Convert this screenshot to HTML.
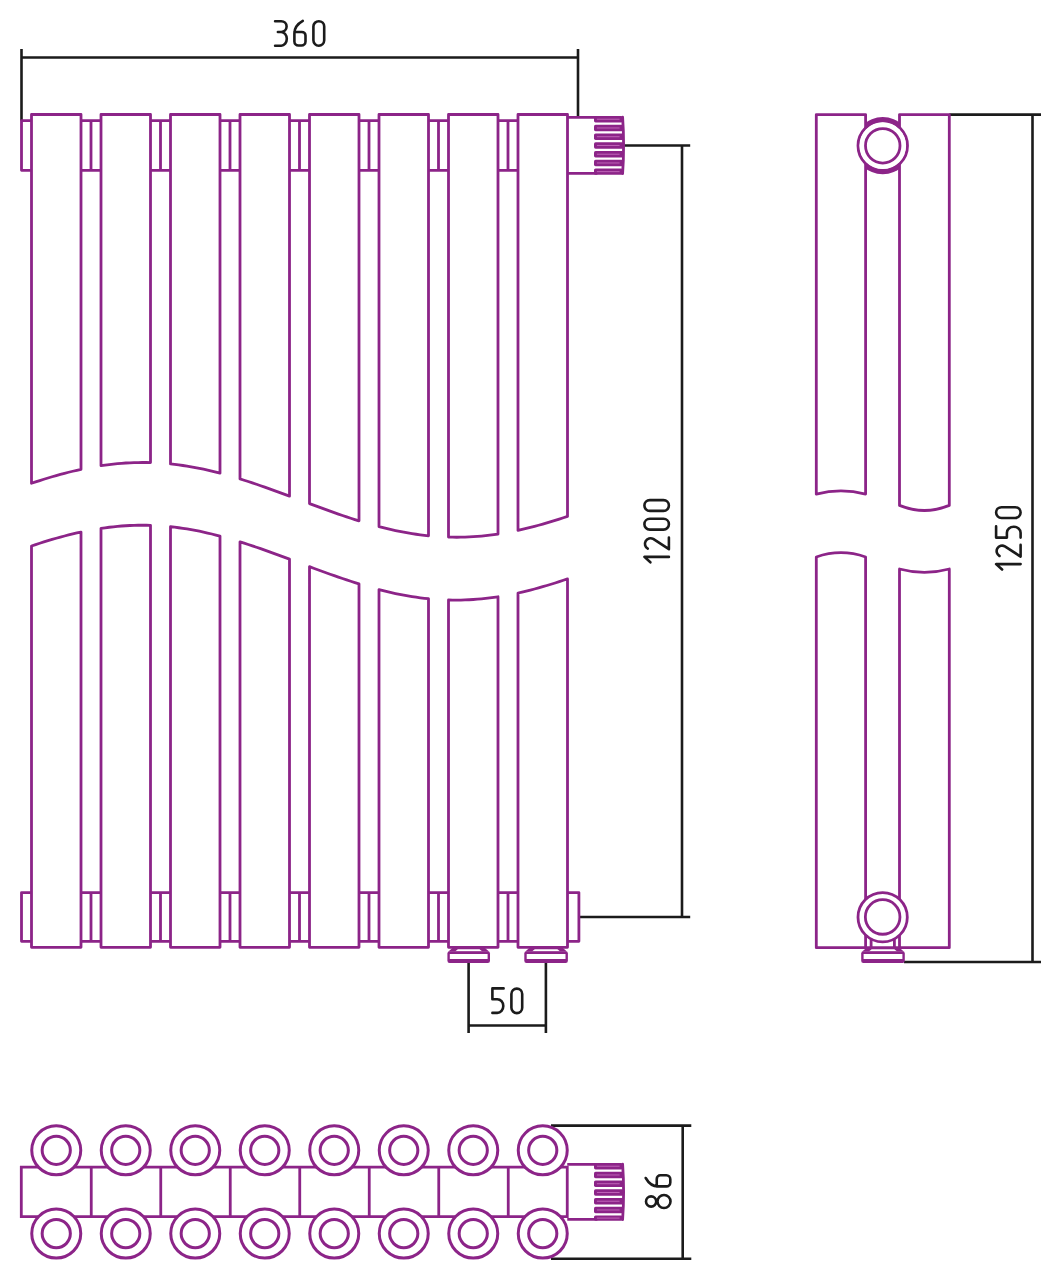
<!DOCTYPE html>
<html><head><meta charset="utf-8"><title>Radiator drawing</title>
<style>html,body{margin:0;padding:0;background:#fff;width:1061px;height:1280px;overflow:hidden;font-family:"Liberation Sans",sans-serif}svg{display:block}</style>
</head><body>
<svg width="1061" height="1280" viewBox="0 0 1061 1280"><path d="M21.5,49 V120.8 M578,49 V117 M21.5,57.5 H578 M624,145.5 H690.2 M579,917 H690.2 M682,145.5 V917 M949.3,114.65 H1041 M904,962 H1041 M1032.5,114.65 V962 M468.6,962.4 V1033 M545.9,962.4 V1033 M468.6,1025.5 H545.9" fill="none" stroke="#1b1b1b" stroke-width="2.6"/><g fill="none" stroke="#8C2488" stroke-width="2.8" stroke-linejoin="round"><path d="M31.5,483.28 V114.5 H81 V469.35 L76.88,470.27 L72.75,471.24 L68.62,472.25 L64.5,473.32 L60.38,474.42 L56.25,475.58 L52.12,476.77 L48,478 L43.88,479.27 L39.75,480.58 L35.62,481.91 L31.5,483.28Z"/><path d="M31.5,545.97 V947.3 H81 V532.04 L76.88,532.95 L72.75,533.92 L68.62,534.93 L64.5,536 L60.38,537.1 L56.25,538.26 L52.12,539.45 L48,540.68 L43.88,541.95 L39.75,543.26 L35.62,544.6 L31.5,545.97Z"/><path d="M101,465.67 V114.5 H150.5 V462.61 L146.38,462.52 L142.25,462.49 L138.12,462.53 L134,462.63 L129.88,462.79 L125.75,463.01 L121.62,463.3 L117.5,463.65 L113.38,464.07 L109.25,464.54 L105.12,465.08 L101,465.67Z"/><path d="M101,528.37 V947.3 H150.5 V525.37 L146.38,525.27 L142.25,525.24 L138.12,525.27 L134,525.36 L129.88,525.52 L125.75,525.74 L121.62,526.02 L117.5,526.37 L113.38,526.78 L109.25,527.25 L105.12,527.78 L101,528.37Z"/><path d="M170.5,463.95 V114.5 H220 V473.18 L215.88,472.12 L211.75,471.11 L207.62,470.15 L203.5,469.24 L199.38,468.38 L195.25,467.58 L191.12,466.83 L187,466.14 L182.88,465.5 L178.75,464.92 L174.62,464.4 L170.5,463.95Z"/><path d="M170.5,526.75 V947.3 H220 V536.08 L215.88,535.02 L211.75,534 L207.62,533.03 L203.5,532.11 L199.38,531.24 L195.25,530.43 L191.12,529.67 L187,528.97 L182.88,528.32 L178.75,527.74 L174.62,527.21 L170.5,526.75Z"/><path d="M240,478.92 V114.5 H289.5 V496.15 L285.38,494.62 L281.25,493.1 L277.12,491.59 L273,490.09 L268.88,488.61 L264.75,487.15 L260.62,485.71 L256.5,484.29 L252.38,482.9 L248.25,481.54 L244.12,480.21 L240,478.92Z"/><path d="M240,541.86 V947.3 H289.5 V559.18 L285.38,557.64 L281.25,556.11 L277.12,554.59 L273,553.09 L268.88,551.6 L264.75,550.14 L260.62,548.69 L256.5,547.27 L252.38,545.87 L248.25,544.5 L244.12,543.16 L240,541.86Z"/><path d="M309.5,503.62 V114.5 H359 V520.85 L354.88,519.55 L350.75,518.22 L346.62,516.87 L342.5,515.48 L338.38,514.06 L334.25,512.62 L330.12,511.16 L326,509.68 L321.88,508.19 L317.75,506.67 L313.62,505.15 L309.5,503.62Z"/><path d="M309.5,566.67 V947.3 H359 V583.9 L354.88,582.61 L350.75,581.28 L346.62,579.92 L342.5,578.54 L338.38,577.12 L334.25,575.68 L330.12,574.22 L326,572.74 L321.88,571.24 L317.75,569.73 L313.62,568.2 L309.5,566.67Z"/><path d="M379,526.58 V114.5 H428.5 V535.79 L424.38,535.33 L420.25,534.82 L416.12,534.24 L412,533.61 L407.88,532.92 L403.75,532.17 L399.62,531.37 L395.5,530.51 L391.38,529.6 L387.25,528.64 L383.12,527.63 L379,526.58Z"/><path d="M379,589.61 V947.3 H428.5 V598.73 L424.38,598.29 L420.25,597.78 L416.12,597.22 L412,596.59 L407.88,595.91 L403.75,595.17 L399.62,594.37 L395.5,593.52 L391.38,592.62 L387.25,591.67 L383.12,590.66 L379,589.61Z"/><path d="M448.5,537.11 V114.5 H498 V534.03 L493.88,534.62 L489.75,535.16 L485.62,535.64 L481.5,536.05 L477.38,536.41 L473.25,536.7 L469.12,536.92 L465,537.09 L460.88,537.19 L456.75,537.23 L452.62,537.2 L448.5,537.11Z"/><path d="M448.5,600.01 V947.3 H498 V596.76 L493.88,597.37 L489.75,597.92 L485.62,598.41 L481.5,598.84 L477.38,599.21 L473.25,599.51 L469.12,599.75 L465,599.93 L460.88,600.05 L456.75,600.1 L452.62,600.08 L448.5,600.01Z"/><path d="M518,530.34 V114.5 H567.5 V516.39 L563.38,517.76 L559.25,519.1 L555.12,520.4 L551,521.68 L546.88,522.91 L542.75,524.1 L538.62,525.26 L534.5,526.37 L530.38,527.43 L526.25,528.45 L522.12,529.42 L518,530.34Z"/><path d="M518,593.01 V947.3 H567.5 V578.91 L563.38,580.29 L559.25,581.64 L555.12,582.96 L551,584.24 L546.88,585.49 L542.75,586.7 L538.62,587.86 L534.5,588.98 L530.38,590.06 L526.25,591.09 L522.12,592.07 L518,593.01Z"/><path d="M31.5,120.7 H21.5 V170.3 H31.5"/><path d="M81,120.7 H101 M81,170.3 H101 M91,120.7 V170.3"/><path d="M150.5,120.7 H170.5 M150.5,170.3 H170.5 M160.5,120.7 V170.3"/><path d="M220,120.7 H240 M220,170.3 H240 M230,120.7 V170.3"/><path d="M289.5,120.7 H309.5 M289.5,170.3 H309.5 M299.5,120.7 V170.3"/><path d="M359,120.7 H379 M359,170.3 H379 M369,120.7 V170.3"/><path d="M428.5,120.7 H448.5 M428.5,170.3 H448.5 M438.5,120.7 V170.3"/><path d="M498,120.7 H518 M498,170.3 H518 M508,120.7 V170.3"/><path d="M31.5,892.6 H21.5 V941.3 H31.5"/><path d="M81,892.6 H101 M81,941.3 H101 M91,892.6 V941.3"/><path d="M150.5,892.6 H170.5 M150.5,941.3 H170.5 M160.5,892.6 V941.3"/><path d="M220,892.6 H240 M220,941.3 H240 M230,892.6 V941.3"/><path d="M289.5,892.6 H309.5 M289.5,941.3 H309.5 M299.5,892.6 V941.3"/><path d="M359,892.6 H379 M359,941.3 H379 M369,892.6 V941.3"/><path d="M428.5,892.6 H448.5 M428.5,941.3 H448.5 M438.5,892.6 V941.3"/><path d="M498,892.6 H518 M498,941.3 H518 M508,892.6 V941.3"/><path d="M567.5,892.6 H578.9 V941.3 H567.5"/></g><path d="M567.4,117.4 H597.4 M567.4,173.4 H597.4" fill="none" stroke="#8C2488" stroke-width="2.8"/><rect x="594" y="116" width="28.73" height="6.45" rx="1.6" fill="#8C2488"/><line x1="596.9" y1="119.22" x2="619.6" y2="119.22" stroke="#c46cbc" stroke-width="0.9"/><rect x="594" y="124.75" width="29.21" height="6.45" rx="1.6" fill="#8C2488"/><line x1="596.9" y1="127.98" x2="619.6" y2="127.98" stroke="#c46cbc" stroke-width="0.9"/><rect x="594" y="133.5" width="29.5" height="6.45" rx="1.6" fill="#8C2488"/><line x1="596.9" y1="136.73" x2="619.6" y2="136.73" stroke="#c46cbc" stroke-width="0.9"/><rect x="594" y="142.25" width="29.6" height="6.45" rx="1.6" fill="#8C2488"/><line x1="596.9" y1="145.48" x2="619.6" y2="145.48" stroke="#c46cbc" stroke-width="0.9"/><rect x="594" y="151" width="29.5" height="6.45" rx="1.6" fill="#8C2488"/><line x1="596.9" y1="154.23" x2="619.6" y2="154.23" stroke="#c46cbc" stroke-width="0.9"/><rect x="594" y="159.75" width="29.21" height="6.45" rx="1.6" fill="#8C2488"/><line x1="596.9" y1="162.98" x2="619.6" y2="162.98" stroke="#c46cbc" stroke-width="0.9"/><rect x="594" y="168.5" width="28.72" height="6.3" rx="1.6" fill="#8C2488"/><line x1="596.9" y1="171.65" x2="619.6" y2="171.65" stroke="#c46cbc" stroke-width="0.9"/><path d="M622.6,117.1 Q624.6,145.4 622.6,173.7" fill="none" stroke="#8C2488" stroke-width="2.8" stroke-linecap="round"/><path d="M448.4,951.6 L452.4,948 H485 L489,951.6 Z" fill="#8C2488"/><path d="M455,951.4 L457.9,949.3 H479.5 L482.4,951.4 Z" fill="#fff"/><rect x="447.4" y="951.2" width="42.6" height="11.8" rx="2.2" fill="#8C2488"/><rect x="449.8" y="954" width="37.8" height="5" fill="#fff"/><path d="M525.3,951.6 L529.3,948 H562.9 L566.9,951.6 Z" fill="#8C2488"/><path d="M531.9,951.4 L534.8,949.3 H557.4 L560.3,951.4 Z" fill="#fff"/><rect x="524.3" y="951.2" width="43.6" height="11.8" rx="2.2" fill="#8C2488"/><rect x="526.7" y="954" width="38.8" height="5" fill="#fff"/><g fill="none" stroke="#8C2488" stroke-width="2.8" stroke-linejoin="round"><path d="M816.3,494.1 V114.6 H865.6 V494.1 Q840.95,487.7 816.3,494.1Z"/><path d="M816.3,557 V947.7 H865.6 V557 Q840.95,548.4 816.3,557Z"/><path d="M899.5,505.4 V114.6 H949.3 V505.4 Q924.4,515.6 899.5,505.4Z"/><path d="M899.5,569 V947.7 H949.3 V569 Q924.4,575.8 899.5,569Z"/><path d="M865.6,947.7 H899.5"/><path d="M871.1,938 V947.7 M894.4,938 V947.7"/></g><defs><clipPath id="nk"><rect x="865.6" y="100" width="34" height="90"/></clipPath></defs><circle cx="882.75" cy="145.7" r="28.6" fill="#8C2488" clip-path="url(#nk)"/><circle cx="882.75" cy="145.7" r="24.75" fill="#fff" stroke="#8C2488" stroke-width="2.8"/><circle cx="882.75" cy="145.7" r="23.1" fill="#fff"/><circle cx="882.75" cy="145.8" r="17.25" fill="none" stroke="#8C2488" stroke-width="2.8"/><circle cx="882.65" cy="917.2" r="24.65" fill="#fff" stroke="#8C2488" stroke-width="2.8"/><circle cx="882.65" cy="916.95" r="17.3" fill="none" stroke="#8C2488" stroke-width="2.8"/><path d="M862.2,951.6 L866.2,948 H899.8 L903.8,951.6 Z" fill="#8C2488"/><path d="M868.8,951.4 L871.7,949.3 H894.3 L897.2,951.4 Z" fill="#fff"/><rect x="861.2" y="951.2" width="43.6" height="11.8" rx="2.2" fill="#8C2488"/><rect x="863.6" y="954" width="38.8" height="5" fill="#fff"/><path d="M567.25,1167.2 H21.3 V1216.7 H567.25 Z" fill="none" stroke="#8C2488" stroke-width="2.8"/><line x1="91.25" y1="1167.2" x2="91.25" y2="1216.7" stroke="#8C2488" stroke-width="2.8"/><line x1="160.75" y1="1167.2" x2="160.75" y2="1216.7" stroke="#8C2488" stroke-width="2.8"/><line x1="230.25" y1="1167.2" x2="230.25" y2="1216.7" stroke="#8C2488" stroke-width="2.8"/><line x1="299.75" y1="1167.2" x2="299.75" y2="1216.7" stroke="#8C2488" stroke-width="2.8"/><line x1="369.25" y1="1167.2" x2="369.25" y2="1216.7" stroke="#8C2488" stroke-width="2.8"/><line x1="438.75" y1="1167.2" x2="438.75" y2="1216.7" stroke="#8C2488" stroke-width="2.8"/><line x1="508.25" y1="1167.2" x2="508.25" y2="1216.7" stroke="#8C2488" stroke-width="2.8"/><path d="M551,1125.6 H691.3 M551,1258.7 H691.3 M682.7,1125.6 V1258.7" fill="none" stroke="#1b1b1b" stroke-width="2.6"/><circle cx="56.25" cy="1150.3" r="24.5" fill="#fff" stroke="#8C2488" stroke-width="3.0"/><circle cx="56.25" cy="1150.3" r="14.1" fill="none" stroke="#8C2488" stroke-width="3.0"/><circle cx="56.25" cy="1233.6" r="24.5" fill="#fff" stroke="#8C2488" stroke-width="3.0"/><circle cx="56.25" cy="1233.6" r="14.1" fill="none" stroke="#8C2488" stroke-width="3.0"/><circle cx="125.75" cy="1150.3" r="24.5" fill="#fff" stroke="#8C2488" stroke-width="3.0"/><circle cx="125.75" cy="1150.3" r="14.1" fill="none" stroke="#8C2488" stroke-width="3.0"/><circle cx="125.75" cy="1233.6" r="24.5" fill="#fff" stroke="#8C2488" stroke-width="3.0"/><circle cx="125.75" cy="1233.6" r="14.1" fill="none" stroke="#8C2488" stroke-width="3.0"/><circle cx="195.25" cy="1150.3" r="24.5" fill="#fff" stroke="#8C2488" stroke-width="3.0"/><circle cx="195.25" cy="1150.3" r="14.1" fill="none" stroke="#8C2488" stroke-width="3.0"/><circle cx="195.25" cy="1233.6" r="24.5" fill="#fff" stroke="#8C2488" stroke-width="3.0"/><circle cx="195.25" cy="1233.6" r="14.1" fill="none" stroke="#8C2488" stroke-width="3.0"/><circle cx="264.75" cy="1150.3" r="24.5" fill="#fff" stroke="#8C2488" stroke-width="3.0"/><circle cx="264.75" cy="1150.3" r="14.1" fill="none" stroke="#8C2488" stroke-width="3.0"/><circle cx="264.75" cy="1233.6" r="24.5" fill="#fff" stroke="#8C2488" stroke-width="3.0"/><circle cx="264.75" cy="1233.6" r="14.1" fill="none" stroke="#8C2488" stroke-width="3.0"/><circle cx="334.25" cy="1150.3" r="24.5" fill="#fff" stroke="#8C2488" stroke-width="3.0"/><circle cx="334.25" cy="1150.3" r="14.1" fill="none" stroke="#8C2488" stroke-width="3.0"/><circle cx="334.25" cy="1233.6" r="24.5" fill="#fff" stroke="#8C2488" stroke-width="3.0"/><circle cx="334.25" cy="1233.6" r="14.1" fill="none" stroke="#8C2488" stroke-width="3.0"/><circle cx="403.75" cy="1150.3" r="24.5" fill="#fff" stroke="#8C2488" stroke-width="3.0"/><circle cx="403.75" cy="1150.3" r="14.1" fill="none" stroke="#8C2488" stroke-width="3.0"/><circle cx="403.75" cy="1233.6" r="24.5" fill="#fff" stroke="#8C2488" stroke-width="3.0"/><circle cx="403.75" cy="1233.6" r="14.1" fill="none" stroke="#8C2488" stroke-width="3.0"/><circle cx="473.25" cy="1150.3" r="24.5" fill="#fff" stroke="#8C2488" stroke-width="3.0"/><circle cx="473.25" cy="1150.3" r="14.1" fill="none" stroke="#8C2488" stroke-width="3.0"/><circle cx="473.25" cy="1233.6" r="24.5" fill="#fff" stroke="#8C2488" stroke-width="3.0"/><circle cx="473.25" cy="1233.6" r="14.1" fill="none" stroke="#8C2488" stroke-width="3.0"/><circle cx="542.75" cy="1150.3" r="24.5" fill="#fff" stroke="#8C2488" stroke-width="3.0"/><circle cx="542.75" cy="1150.3" r="14.1" fill="none" stroke="#8C2488" stroke-width="3.0"/><circle cx="542.75" cy="1233.6" r="24.5" fill="#fff" stroke="#8C2488" stroke-width="3.0"/><circle cx="542.75" cy="1233.6" r="14.1" fill="none" stroke="#8C2488" stroke-width="3.0"/><path d="M567.25,1164.4 H597.4 M567.25,1219.3 H597.4" fill="none" stroke="#8C2488" stroke-width="2.8"/><rect x="594" y="1163" width="28.73" height="6.45" rx="1.6" fill="#8C2488"/><line x1="596.9" y1="1166.22" x2="619.6" y2="1166.22" stroke="#c46cbc" stroke-width="0.9"/><rect x="594" y="1171.75" width="29.22" height="6.45" rx="1.6" fill="#8C2488"/><line x1="596.9" y1="1174.98" x2="619.6" y2="1174.98" stroke="#c46cbc" stroke-width="0.9"/><rect x="594" y="1180.5" width="29.51" height="6.45" rx="1.6" fill="#8C2488"/><line x1="596.9" y1="1183.73" x2="619.6" y2="1183.73" stroke="#c46cbc" stroke-width="0.9"/><rect x="594" y="1189.25" width="29.6" height="6.45" rx="1.6" fill="#8C2488"/><line x1="596.9" y1="1192.48" x2="619.6" y2="1192.48" stroke="#c46cbc" stroke-width="0.9"/><rect x="594" y="1198" width="29.48" height="6.45" rx="1.6" fill="#8C2488"/><line x1="596.9" y1="1201.23" x2="619.6" y2="1201.23" stroke="#c46cbc" stroke-width="0.9"/><rect x="594" y="1206.75" width="29.16" height="6.45" rx="1.6" fill="#8C2488"/><line x1="596.9" y1="1209.98" x2="619.6" y2="1209.98" stroke="#c46cbc" stroke-width="0.9"/><rect x="594" y="1215.5" width="28.69" height="5.2" rx="1.6" fill="#8C2488"/><line x1="596.9" y1="1218.1" x2="619.6" y2="1218.1" stroke="#c46cbc" stroke-width="0.9"/><path d="M622.6,1164.1 Q624.6,1191.85 622.6,1219.6" fill="none" stroke="#8C2488" stroke-width="2.8" stroke-linecap="round"/><g fill="none" stroke="#1b1b1b" stroke-width="2.6" stroke-linecap="round" stroke-linejoin="round"><path transform="translate(275.1,21.2)" d="M0,0 H6.1 A5.4,5.4 0 0 1 6.1,10.8 H2.8 M6.1,10.8 A5.6,6.85 0 0 1 6.1,24.5 H0"/><path transform="translate(294.4,21.2)" d="M8.4,-0.3 C3.5,2.5 0,6 0,12 V20.3 A4,4 0 0 0 4,24.3 H7.1 A4,4 0 0 0 11.1,20.3 V14.4 A3.65,3.65 0 0 0 7.45,10.75 H0"/><path transform="translate(313.4,21.2)" d="M5.4,0 A5.4,5.4 0 0 1 10.8,5.4 V19.1 A5.4,5.4 0 0 1 0,19.1 V5.4 A5.4,5.4 0 0 1 5.4,0 Z"/><path transform="translate(492.4,988.4)" d="M11.2,0 H0 V10.8 H4.9 A6,6.85 0 0 1 4.9,24.5 H0"/><path transform="translate(511.4,988.6)" d="M5.4,0 A5.4,5.4 0 0 1 10.8,5.4 V19.1 A5.4,5.4 0 0 1 0,19.1 V5.4 A5.4,5.4 0 0 1 5.4,0 Z"/><path transform="translate(644.4,562.3) rotate(-90)" d="M0,6 L5.4,0 V24.5"/><path transform="translate(644.4,549.2) rotate(-90)" d="M0.6,3.4 A5.5,5.5 0 1 1 10.3,8.8 L0,24.5 H11.7"/><path transform="translate(644.4,529.6) rotate(-90)" d="M5.4,0 A5.4,5.4 0 0 1 10.8,5.4 V19.1 A5.4,5.4 0 0 1 0,19.1 V5.4 A5.4,5.4 0 0 1 5.4,0 Z"/><path transform="translate(644.4,510.9) rotate(-90)" d="M5.4,0 A5.4,5.4 0 0 1 10.8,5.4 V19.1 A5.4,5.4 0 0 1 0,19.1 V5.4 A5.4,5.4 0 0 1 5.4,0 Z"/><path transform="translate(996.1,569.5) rotate(-90)" d="M0,6 L5.4,0 V24.5"/><path transform="translate(996.1,556.6) rotate(-90)" d="M0.6,3.4 A5.5,5.5 0 1 1 10.3,8.8 L0,24.5 H11.7"/><path transform="translate(996.1,537.6) rotate(-90)" d="M11.2,0 H0 V10.8 H4.9 A6,6.85 0 0 1 4.9,24.5 H0"/><path transform="translate(996.1,518) rotate(-90)" d="M5.4,0 A5.4,5.4 0 0 1 10.8,5.4 V19.1 A5.4,5.4 0 0 1 0,19.1 V5.4 A5.4,5.4 0 0 1 5.4,0 Z"/><path transform="translate(646,1208) rotate(-90)" d="M6.5,0 A5.1,5.1 0 1 1 6.5,10.2 A5.1,5.1 0 1 1 6.5,0 Z M6.5,11.5 A6.5,6.5 0 1 1 6.5,24.5 A6.5,6.5 0 1 1 6.5,11.5 Z"/><path transform="translate(646,1186.4) rotate(-90)" d="M8.4,-0.3 C3.5,2.5 0,6 0,12 V20.3 A4,4 0 0 0 4,24.3 H7.1 A4,4 0 0 0 11.1,20.3 V14.4 A3.65,3.65 0 0 0 7.45,10.75 H0"/></g></svg>
</body></html>
